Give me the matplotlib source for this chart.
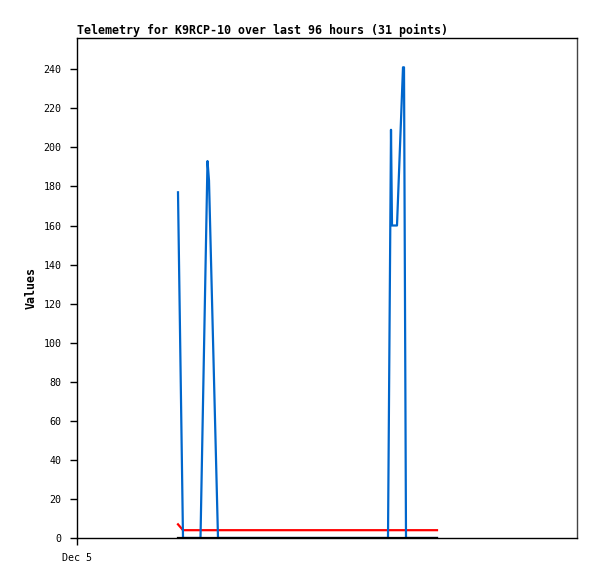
import matplotlib
matplotlib.use("Agg")
import matplotlib.pyplot as plt

# ---------------------------------------------------------------------------
# Data (hours since Dec 5 00:00)
# ---------------------------------------------------------------------------
hours = [
    20.2, 21.2, 22.6, 23.6, 24.7, 26.1, 26.4, 28.2,
    30.6, 33.6, 36.6, 39.6, 42.6, 45.6, 48.6, 51.6, 54.6, 57.6, 60.2,
    62.2, 62.8, 63.0, 64.0, 65.2, 65.4, 65.8,
    67.0, 68.2, 69.4, 70.6, 72.0,
]
blue_values = [
    177, 0, 0, 0, 0, 193, 183, 0,
    0, 0, 0, 0, 0, 0, 0, 0, 0, 0, 0,
    0, 209, 160, 160, 241, 241, 0,
    0, 0, 0, 0, 0,
]
red_values = [7] + [4] * 30
black_values = [0] * 31

x_ticks = [0]
x_tick_labels = ["Dec 5"]
y_ticks = list(range(0, 241, 20))

TITLE = "Telemetry for K9RCP-10 over last 96 hours (31 points)"
MONO = "DejaVu Sans Mono"

# ---------------------------------------------------------------------------
# Figure
# ---------------------------------------------------------------------------
fig = plt.figure(figsize=(5.97, 5.79), dpi=100)
ax = fig.add_axes([77 / 597, 1 - 538 / 579, 500 / 597, 500 / 579])

ax.plot(hours, red_values, color="#ff0000", linewidth=1.6, zorder=2)
ax.plot(hours, blue_values, color="#0066cc", linewidth=1.6, zorder=3)
ax.plot(hours, black_values, color="#000000", linewidth=1.6, zorder=4)

ax.set_xlim(0, 100)
ax.set_ylim(0, 256)

ax.set_xticks(x_ticks)
ax.set_xticklabels(x_tick_labels, fontfamily=MONO, fontsize=7.2)
ax.set_yticks(y_ticks)
ax.set_yticklabels([str(v) for v in y_ticks], fontfamily=MONO, fontsize=7.2)
ax.tick_params(axis="both", direction="out", length=5, width=1, pad=6, colors="black")

ax.set_ylabel("Values", fontfamily=MONO, fontweight="bold", fontsize=8.4, labelpad=4)
ax.set_title(TITLE, loc="left", fontfamily=MONO, fontweight="bold", fontsize=8.4, pad=3)

for side in ("left", "bottom", "top"):
    ax.spines[side].set_color("black")
    ax.spines[side].set_linewidth(1)
ax.spines["right"].set_color("#444444")
ax.spines["right"].set_linewidth(1)

fig.savefig("out.png", dpi=100)
